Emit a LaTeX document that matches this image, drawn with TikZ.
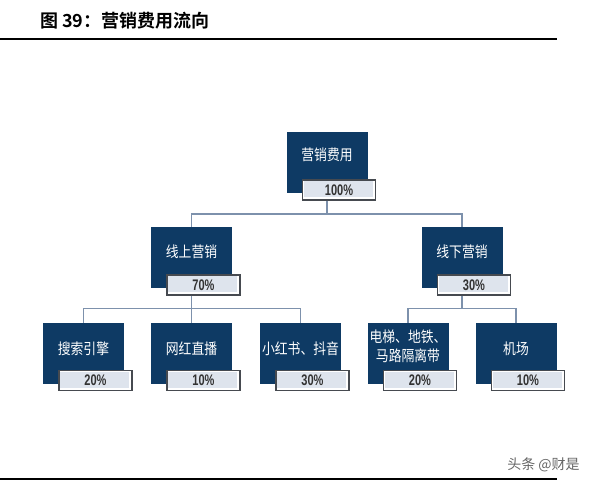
\documentclass[tikz,border=0pt]{standalone}
\usepackage{fontspec}
\newfontfamily\cjk{Noto Sans CJK SC}[BoldFont={Noto Sans CJK SC Bold}]
\newfontfamily\cjkcond{Noto Sans CJK SC}[FakeStretch=0.85]
\newfontfamily\numfont{Liberation Sans}[FakeStretch=0.72]
\usetikzlibrary{positioning, calc}

\definecolor{navy}{RGB}{14,58,100}
\definecolor{linkblue}{RGB}{125,145,172}
\definecolor{pctfill}{RGB}{222,228,237}
\definecolor{pctline}{RGB}{70,74,80}

\begin{document}
\begin{tikzpicture}[
    x=0.75pt, y=-0.75pt,
    card/.style={rectangle, fill=navy, minimum width=60.75pt, minimum height=45.75pt, inner sep=0pt},
    cardtext/.style={text=white, font=\cjkcond\fontsize{11.3}{14.25}\selectfont, align=center, inner sep=0pt},
    pct/.style={rectangle, draw=pctline, line width=0.8pt, fill=white, minimum width=54.75pt, minimum height=15pt, inner sep=0pt,
        font=\numfont\bfseries\fontsize{11.5}{12}\selectfont, text=black!80,
        path picture={\fill[pctfill] ([shift={(0.8pt,-0.8pt)}]path picture bounding box.north west) rectangle ([shift={(-2.2pt,2pt)}]path picture bounding box.south east);}},
    link/.style={draw=linkblue, line width=0.9pt},
    rule/.style={line width=1.5pt}
]
\useasboundingbox (0,0) rectangle (594,488);

% Title
\node[font=\cjk\bfseries\fontsize{13.5}{16}\selectfont, anchor=west, inner sep=0pt] (title) at (40,21) {图 39：营销费用流向};
\coordinate (ruleA) at (0,39);
\coordinate (ruleB) at (557,39);
\draw[rule] (ruleA) -- (ruleB);

% Level 1
\node[card] (top) at (327,163) {};
\node[cardtext] (top-t) at ($(top)+(0,-8)$) {营销费用};
\node[pct] (top-p) at ($(top)+(12,27)$) {100\%};

% Level 2
\node[card] (on) at (191.5,258) {};
\node[cardtext] (on-t) at ($(on)+(0,-6)$) {线上营销};
\node[pct] (on-p) at ($(on)+(12,27)$) {70\%};

\node[card] (off) at (462,258) {};
\node[cardtext] (off-t) at ($(off)+(0,-6)$) {线下营销};
\node[pct] (off-p) at ($(off)+(12,27)$) {30\%};

% Level 3
\node[card] (search) at (83.5,353.5) {};
\node[cardtext] (search-t) at ($(search)+(0,-5)$) {搜索引擎};
\node[pct] (search-p) at ($(search)+(12,27)$) {20\%};

\node[card] (live) at (191.5,353.5) {};
\node[cardtext] (live-t) at ($(live)+(0,-5)$) {网红直播};
\node[pct] (live-p) at ($(live)+(12,27)$) {10\%};

\node[card] (xhs) at (300.5,353.5) {};
\node[cardtext] (xhs-t) at ($(xhs)+(0,-5)$) {小红书、抖音};
\node[pct] (xhs-p) at ($(xhs)+(12,27)$) {30\%};

\node[card] (metro) at (408,353.5) {};
\node[cardtext] (metro-t) at ($(metro)+(0,-7)$) {电梯、地铁、\\马路隔离带};
\node[pct] (metro-p) at ($(metro)+(12,27)$) {20\%};

\node[card] (air) at (516,353.5) {};
\node[cardtext] (air-t) at ($(air)+(0,-5)$) {机场};
\node[pct] (air-p) at ($(air)+(12,27)$) {10\%};

% Connectors
\coordinate (bus1) at (0,214);
\coordinate (bus2) at (0,308.5);
\draw[link] (top.south |- top-p.south) -- (top.south |- bus1);
\draw[link] (on.north) -- (on.north |- bus1) -- (off.north |- bus1) -- (off.north);

\draw[link] (on.south |- on-p.south) -- (on.south |- bus2);
\draw[link] (search.north) -- (search.north |- bus2) -- (xhs.north |- bus2) -- (xhs.north);
\draw[link] (live.north) -- (live.north |- bus2);

\draw[link] (off.south |- off-p.south) -- (off.south |- bus2);
\draw[link] (metro.north) -- (metro.north |- bus2) -- (air.north |- bus2) -- (air.north);

% Footer
\coordinate (footA) at (0,479);
\coordinate (footB) at (557,479);
\draw[rule] (footA) -- (footB);
\node[font=\cjk\fontsize{10.5}{12}\selectfont, text=black!60, anchor=east, inner sep=0pt] (mark) at (580,465) {头条 @财是};

\end{tikzpicture}
\end{document}
